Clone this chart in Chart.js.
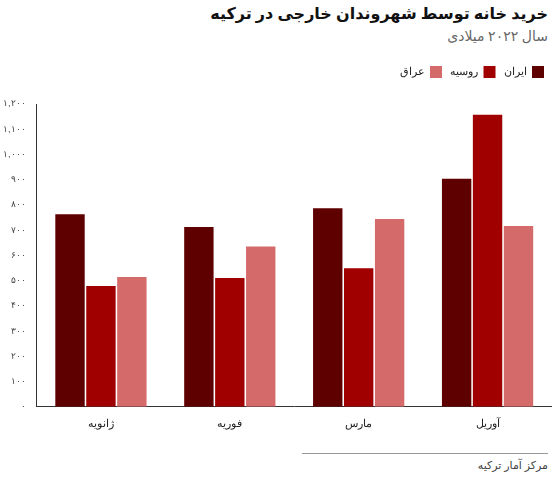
<!DOCTYPE html>
<html lang="fa" dir="rtl">
<head>
<meta charset="UTF-8">
<script src="https://cdn.jsdelivr.net/npm/chart.js"></script>
<style>
  body { margin: 0; width: 560px; height: 478px; background: #fff; font-family: "Noto Sans", "DejaVu Sans", sans-serif; }
  #title { position: absolute; right: 12px; top: 2px; font-size: 16px; font-weight: bold; color: #111; }
  #subtitle { position: absolute; right: 12px; top: 26px; font-size: 14px; color: #666; }
  #wrap { position: absolute; left: 0; top: 58px; width: 552px; height: 376px; }
  #rule { position: absolute; left: 302px; right: 12px; top: 453px; border-top: 1px solid #999; }
  #source { position: absolute; right: 12px; top: 457px; font-size: 11px; color: #444; }
</style>
</head>
<body>
<div id="title">خرید خانه توسط شهروندان خارجی در ترکیه</div>
<div id="subtitle">سال ۲۰۲۲ میلادی</div>
<div id="wrap"><canvas id="chart"></canvas></div>
<div id="rule"></div>
<div id="source">مرکز آمار ترکیه</div>
<script>
// داده‌ها
const months = ['ژانویه', 'فوریه', 'مارس', 'آوریل'];
const iran = [763, 713, 787, 904];
const russia = [479, 510, 549, 1157];
const iraq = [514, 635, 744, 717];
const seriesNames = ['ایران', 'روسیه', 'عراق'];

function faNum(n) {
  const s = n.toLocaleString('en-US');
  return s.replace(/\d/g, d => '۰۱۲۳۴۵۶۷۸۹'[d]);
}

// فاصله زیر راهنما
const legendGap = {
  id: 'legendGap',
  beforeInit(chart) {
    const fit = chart.legend.fit;
    chart.legend.fit = function () { fit.bind(chart.legend)(); this.height += 16; };
  }
};

new Chart(document.getElementById('chart'), {
  type: 'bar',
  data: {
    labels: months,
    datasets: [
      { label: seriesNames[0], data: iran, backgroundColor: '#5e0000' },
      { label: seriesNames[1], data: russia, backgroundColor: '#a00000' },
      { label: seriesNames[2], data: iraq, backgroundColor: '#d46a6a' }
    ]
  },
  plugins: [legendGap],
  options: {
    responsive: true,
    maintainAspectRatio: false,
    animation: false,
    datasets: { bar: { categoryPercentage: 0.72, barPercentage: 0.95 } },
    plugins: {
      legend: {
        position: 'top', align: 'start', rtl: true,
        labels: { boxWidth: 12, boxHeight: 12, font: { size: 11 }, color: '#222', padding: 8 }
      },
      tooltip: { enabled: false }
    },
    scales: {
      x: {
        grid: { display: false },
        border: { color: '#333' },
        ticks: { color: '#222', font: { size: 11 } }
      },
      y: {
        min: 0, max: 1200,
        grid: { display: false },
        border: { color: '#333' },
        ticks: { stepSize: 100, color: '#444', font: { size: 9 }, callback: v => faNum(v) }
      }
    }
  }
});
</script>
</body>
</html>
